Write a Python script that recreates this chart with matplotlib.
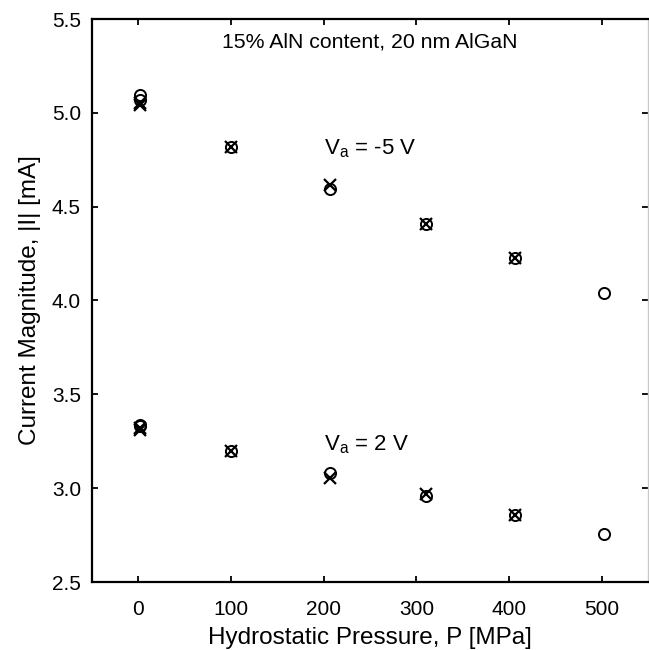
import numpy as np
import matplotlib.pyplot as plt

plt.rcParams['font.family'] = ['Liberation Sans', 'DejaVu Sans']

# Va = -5 V
p_neg_circ = [2, 2, 100, 207, 310, 407, 503]
i_neg_circ = [5.095, 5.07, 4.82, 4.595, 4.41, 4.225, 4.04]
p_neg_x = [2, 2, 100, 207, 310, 407]
i_neg_x = [5.05, 5.04, 4.82, 4.615, 4.41, 4.225]

# Va = 2 V
p_pos_circ = [2, 2, 100, 207, 310, 407, 503]
i_pos_circ = [3.335, 3.33, 3.20, 3.08, 2.96, 2.855, 2.755]
p_pos_x = [2, 2, 100, 207, 310, 407]
i_pos_x = [3.32, 3.31, 3.20, 3.055, 2.97, 2.855]

xticks = [0, 100, 200, 300, 400, 500]
yticks = [2.5, 3.0, 3.5, 4.0, 4.5, 5.0, 5.5]

fig = plt.figure(figsize=(6.49, 6.5), dpi=100)
ax = fig.add_axes([92/649, 1 - 582/650, (648-92)/649, (582-19)/650])

for p, i in [(p_neg_circ, i_neg_circ), (p_pos_circ, i_pos_circ)]:
    ax.plot(p, i, 'o', mfc='none', mec='black', ms=8, mew=1.4, ls='none')
for p, i in [(p_neg_x, i_neg_x), (p_pos_x, i_pos_x)]:
    ax.plot(p, i, 'x', color='black', ms=8, mew=1.6, ls='none')

ax.set_xlim(-50, 550)
ax.set_ylim(2.5, 5.5)
ax.set_xticks(xticks)
ax.set_yticks(yticks)
ax.set_yticklabels([f'{v:.1f}' for v in yticks])
ax.tick_params(direction='in', length=4, width=1.3, labelsize=15, pad=8,
               top=True, right=True)
ax.tick_params(axis='x', pad=13)
for s in ['left', 'bottom', 'top']:
    ax.spines[s].set_linewidth(1.6)
ax.spines['right'].set_color('#c8c8c8')
ax.spines['right'].set_linewidth(1.0)

ax.set_xlabel('Hydrostatic Pressure, P [MPa]', fontsize=17.5, labelpad=6)
ax.set_ylabel('Current Magnitude, |I| [mA]', fontsize=17.5, labelpad=8)

ax.text(250, 5.375, '15% AlN content, 20 nm AlGaN', fontsize=15.3,
        ha='center', va='center')
ax.text(200, 4.78, r'V$_{\mathregular{a}}$ = -5 V', fontsize=16, ha='left',
        va='baseline')
ax.text(200, 3.20, r'V$_{\mathregular{a}}$ = 2 V', fontsize=16, ha='left',
        va='baseline')

fig.savefig('out.png', dpi=100)
